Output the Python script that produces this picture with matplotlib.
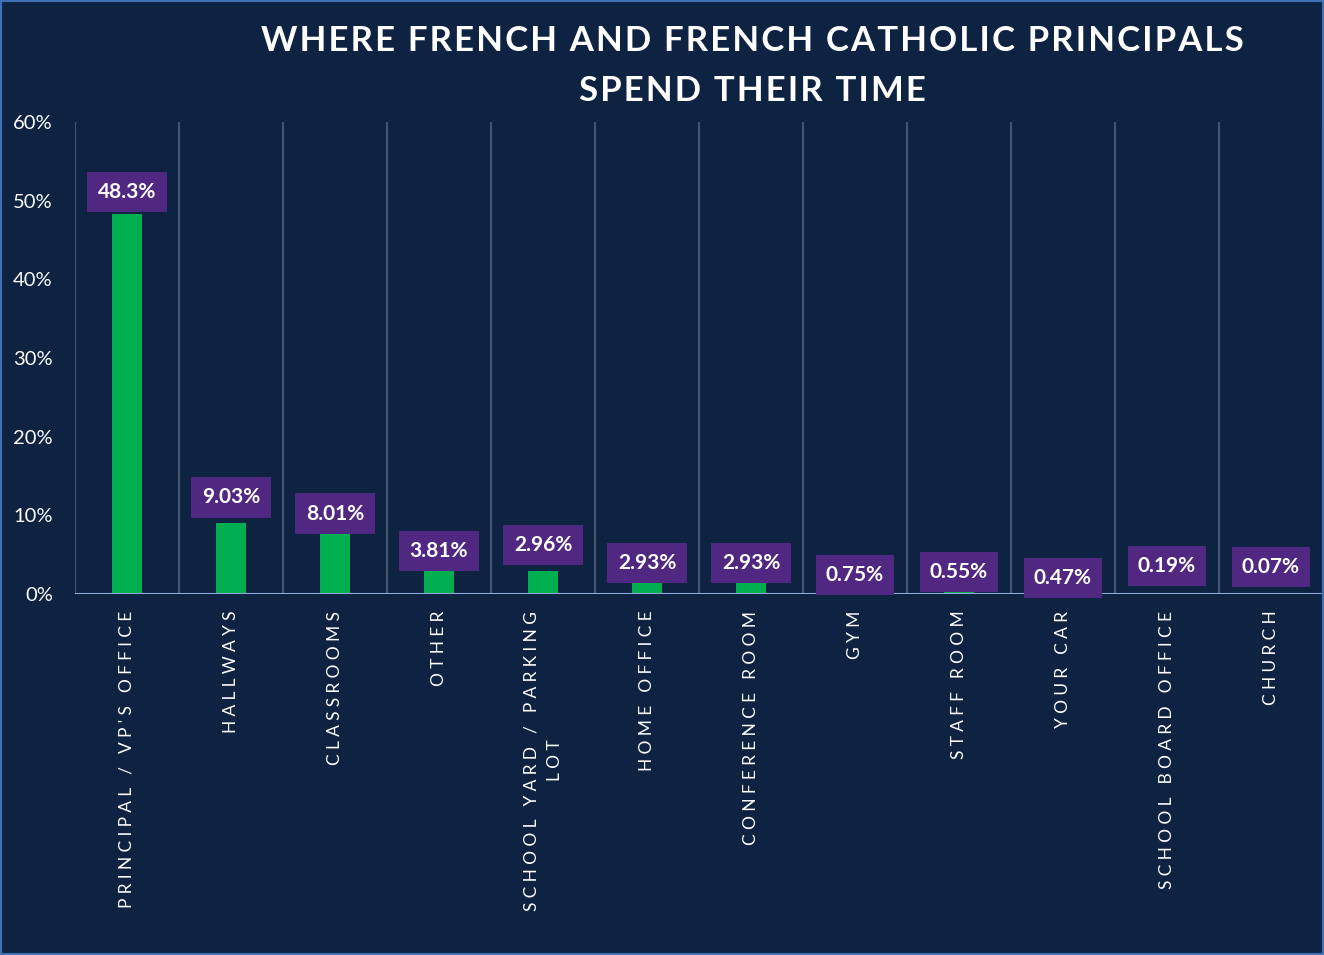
import matplotlib
matplotlib.use("Agg")
import matplotlib.pyplot as plt
import numpy as np
from matplotlib.patches import Rectangle

plt.rcParams.update({
    "font.family": ["Lato", "DejaVu Sans"],
})

CATEGORIES = ["PRINCIPAL / VP'S OFFICE", "HALLWAYS", "CLASSROOMS", "OTHER",
              "SCHOOL YARD / PARKING\nLOT", "HOME OFFICE", "CONFERENCE ROOM",
              "GYM", "STAFF ROOM", "YOUR CAR", "SCHOOL BOARD OFFICE", "CHURCH"]
VALUES = [48.3, 9.03, 8.01, 3.81, 2.96, 2.93, 2.93, 0.75, 0.55, 0.47, 0.19, 0.07]
LABELS = ["48.3%", "9.03%", "8.01%", "3.81%", "2.96%", "2.93%", "2.93%",
          "0.75%", "0.55%", "0.47%", "0.19%", "0.07%"]
# label box centres (in % units), as placed in the original chart
LABEL_Y = [51.1, 12.3, 10.2, 5.47, 6.23, 3.94, 3.94, 2.42, 2.80, 2.03, 3.56, 3.43]
YTICKS = [0, 10, 20, 30, 40, 50, 60]

BG = "#0E2242"
GREEN = "#00B050"
PURPLE = "#502882"
GRID = "#44546C"
BASE = "#8FAADC"


def spaced(s, sep="\u2009"):
    return "\n".join(sep.join(line) for line in s.split("\n"))


fig = plt.figure(figsize=(13.24, 9.55), dpi=100, facecolor=BG)
ax = fig.add_axes([75 / 1324, 1 - 594 / 955, 1 - 76 / 1324, 472 / 955])
ax.set_facecolor(BG)

n = len(CATEGORIES)
x = np.arange(n)
ax.bar(x, VALUES, width=0.28, color=GREEN, zorder=3)

for i, (lab, ly) in enumerate(zip(LABELS, LABEL_Y)):
    ax.text(x[i], ly, lab, ha="center", va="center", color="white",
            fontsize=15, fontweight="bold", zorder=5,
            bbox=dict(boxstyle="square,pad=0.5", fc=PURPLE, ec="none"))

ax.set_xlim(-0.5, n - 0.5)
ax.set_ylim(0, 60)
for b in np.arange(-0.5, n, 1.0):
    ax.axvline(b, color=GRID, linewidth=1.5, zorder=1)
ax.axhline(0, color=BASE, linewidth=1.5, zorder=4)

for s in ax.spines.values():
    s.set_visible(False)

ax.set_yticks(YTICKS)
ax.set_yticklabels([f"{v}%" for v in YTICKS], color="white", fontsize=14.5)
ax.tick_params(axis="y", length=0, pad=16)
ax.set_xticks(x)
ax.set_xticklabels([spaced(c, "\u2009\u2009") for c in CATEGORIES], rotation=90,
                   color="white", fontsize=12.5, ha="center", va="top",
                   multialignment="center", linespacing=1.6)
ax.tick_params(axis="x", length=0, pad=12)

fig.text(752 / 1324, 1 - 66 / 955,
         spaced("WHERE FRENCH AND FRENCH CATHOLIC PRINCIPALS\nSPEND THEIR TIME", "\u200a"),
         ha="center", va="center", color="white", fontsize=25, fontweight="bold",
         linespacing=1.7)

fig.patches.append(Rectangle((0, 0), 1, 1, transform=fig.transFigure,
                             fill=False, ec="#3F6FB5", lw=3))

fig.savefig("out.png", dpi=100, facecolor=BG)
